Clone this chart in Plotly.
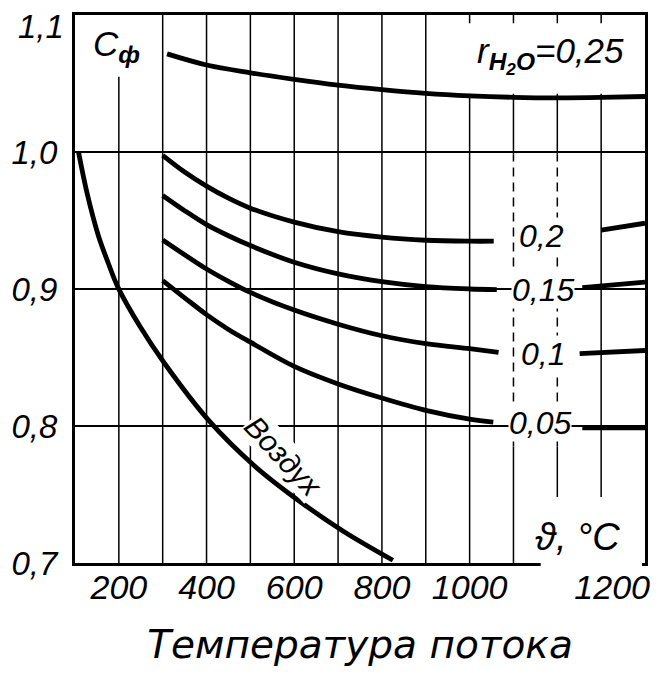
import plotly.graph_objects as go

# ---- data -------------------------------------------------------------
# Air curve: C_f versus flow temperature
air_temp = [108, 128, 153, 176, 198, 248, 304, 406, 509, 612, 711, 825]
air_cf = [1.000, 0.9693, 0.9393, 0.9188, 0.9012, 0.8728, 0.8458, 0.8037, 0.771, 0.7451, 0.7234, 0.702]

# Water-vapour fraction curves (left part / right part around the label)
r_values = [0.25, 0.2, 0.15, 0.1, 0.05]

t_025 = [310, 400, 500, 600, 700, 800, 900, 1000, 1100, 1200, 1300, 1400]
cf_025 = [1.0716, 1.0635, 1.0578, 1.0530, 1.0488, 1.0455, 1.0428, 1.0410, 1.0399, 1.0395, 1.0398, 1.0405]

t_020_left = [300, 350, 400, 450, 500, 600, 700, 800, 900, 1000, 1055]
cf_020_left = [0.9976, 0.9854, 0.9751, 0.9663, 0.959, 0.9488, 0.9418, 0.9378, 0.9356, 0.9349, 0.9349]
t_020_right = [1300, 1400]
cf_020_right = [0.943, 0.948]

t_015_left = [300, 350, 400, 450, 500, 600, 700, 800, 900, 1000, 1062]
cf_015_left = [0.9683, 0.9572, 0.947, 0.9389, 0.9317, 0.9195, 0.911, 0.9053, 0.9017, 0.900, 0.8995]
t_015_right = [1257, 1400]
cf_015_right = [0.901, 0.905]

t_010_left = [300, 350, 400, 450, 500, 600, 700, 800, 900, 1000, 1066]
cf_010_left = [0.9358, 0.925, 0.9146, 0.9056, 0.8975, 0.8846, 0.8743, 0.8659, 0.8602, 0.8564, 0.8538]
t_010_right = [1251, 1400]
cf_010_right = [0.8528, 0.8551]

t_005_left = [300, 350, 400, 450, 500, 600, 700, 800, 900, 1000, 1054]
cf_005_left = [0.9061, 0.8936, 0.8813, 0.8705, 0.8612, 0.8435, 0.8307, 0.8204, 0.8114, 0.805, 0.8029]
t_005_right = [1257, 1400]
cf_005_right = [0.7986, 0.7986]

# curve label positions (temperature, C_f)
label_pos = {0.2: (1165, 0.939), 0.15: (1168, 0.8994), 0.1: (1168, 0.8524), 0.05: (1160, 0.8023)}

# axes
x_range = [100, 1400]
y_range = [0.7, 1.1]
grid_temps = list(range(200, 1400, 100))
x_tick_pos = [200, 400, 600, 800, 1000, 1325]
x_tick_text = ["200", "400", "600", "800", "1000", "1200"]
y_tick_vals = [0.7, 0.8, 0.9, 1.0]
y_tick_text = ["0,7", "0,8", "0,9", "1,0"]
y_top_val, y_top_text = 1.1, "1,1"

NUM_FONT = "Liberation Sans, Arial, sans-serif"
TITLE_FONT = "DejaVu Sans, sans-serif"
LW = 4.8

fig = go.Figure()

line_style = dict(color="black", width=LW, shape="spline", smoothing=1.0)

fig.add_trace(go.Scatter(x=air_temp, y=air_cf, mode="lines", line=line_style,
                         name="Воздух", showlegend=False, hoverinfo="skip"))
fig.add_trace(go.Scatter(x=t_025, y=cf_025, mode="lines", line=line_style,
                         showlegend=False, hoverinfo="skip"))

split_series = [
    (t_020_left, cf_020_left, t_020_right, cf_020_right),
    (t_015_left, cf_015_left, t_015_right, cf_015_right),
    (t_010_left, cf_010_left, t_010_right, cf_010_right),
    (t_005_left, cf_005_left, t_005_right, cf_005_right),
]
for tl, cl, tr, cr in split_series:
    fig.add_trace(go.Scatter(x=tl + [None] + tr, y=cl + [None] + cr, mode="lines",
                             line=line_style, connectgaps=False,
                             showlegend=False, hoverinfo="skip"))

# ---- vertical grid lines ---------------------------------------------
shapes = []
grid = dict(color="black", width=1.5)
for t in grid_temps:
    if t == 200:
        shapes.append(dict(type="line", x0=t, x1=t, y0=0.7, y1=1.055, line=grid, layer="between"))
    elif t in (1100, 1200):
        shapes.append(dict(type="line", x0=t, x1=t, y0=0.7, y1=0.785, line=grid, layer="between"))
        shapes.append(dict(type="line", x0=t, x1=t, y0=0.785, y1=0.998,
                           line=dict(color="black", width=1.5, dash="9px,6px"), layer="between"))
        shapes.append(dict(type="line", x0=t, x1=t, y0=0.998, y1=1.1, line=grid, layer="between"))
    else:
        shapes.append(dict(type="line", x0=t, x1=t, y0=0.7, y1=1.1, line=grid, layer="between"))

# clear area behind the r_H2O caption
shapes.append(dict(type="rect", x0=950, x1=1390, y0=1.0425, y1=1.094,
                   fillcolor="white", line=dict(width=0), layer="between"))
# clear area behind the temperature-unit caption (also breaks the bottom frame)
shapes.append(dict(type="rect", xref="paper", yref="paper", x0=0.817, x1=0.9948,
                   y0=-0.0095, y1=0.1204, fillcolor="white", line=dict(width=0), layer="above"))

annotations = []
ital = lambda size, fam=NUM_FONT: dict(family=fam, size=size, color="black", style="italic")

# top tick label kept inside the page
annotations.append(dict(xref="paper", x=0, xanchor="right", xshift=-9, y=y_top_val, yshift=-11,
                        text=y_top_text, showarrow=False, font=ital(33)))
annotations.append(dict(x=195, y=1.0775, text="C<sub><b>ф</b></sub>", showarrow=False,
                        font=ital(35)))
annotations.append(dict(x=1185, y=1.071, text="r<sub><b>H<sub>2</sub>O</b></sub>=0,25",
                        showarrow=False, font=ital(35)))
for r, (lx, ly) in label_pos.items():
    annotations.append(dict(x=lx, y=ly, text=f"{r:g}".replace(".", ","), showarrow=False,
                            font=ital(32), bgcolor="white", borderpad=0))
annotations.append(dict(x=576, y=0.778, text="Воздух", textangle=47, showarrow=False,
                        font=ital(30), bgcolor="white", borderpad=0))
annotations.append(dict(x=1247, y=0.719, text="ϑ, °C", showarrow=False, font=ital(38)))

fig.update_layout(
    width=663, height=679,
    margin=dict(l=72, r=18, t=15, b=116),
    paper_bgcolor="white", plot_bgcolor="white",
    shapes=shapes, annotations=annotations,
    showlegend=False,
)
fig.update_xaxes(
    range=x_range, showgrid=False, zeroline=False,
    tickmode="array", tickvals=x_tick_pos, ticktext=x_tick_text,
    ticks="", tickfont=ital(34), ticklabelstandoff=-8,
    showline=True, mirror=True, linecolor="black", linewidth=3,
    title=dict(text="Температура потока", font=ital(39, TITLE_FONT), standoff=26),
)
fig.update_yaxes(
    range=y_range, showgrid=True, gridcolor="black", gridwidth=1.5, zeroline=False,
    tickmode="array", tickvals=y_tick_vals, ticktext=y_tick_text,
    ticks="", tickfont=ital(33), ticklabelstandoff=8,
    showline=True, mirror=True, linecolor="black", linewidth=3,
)

fig.write_html("out.html")
